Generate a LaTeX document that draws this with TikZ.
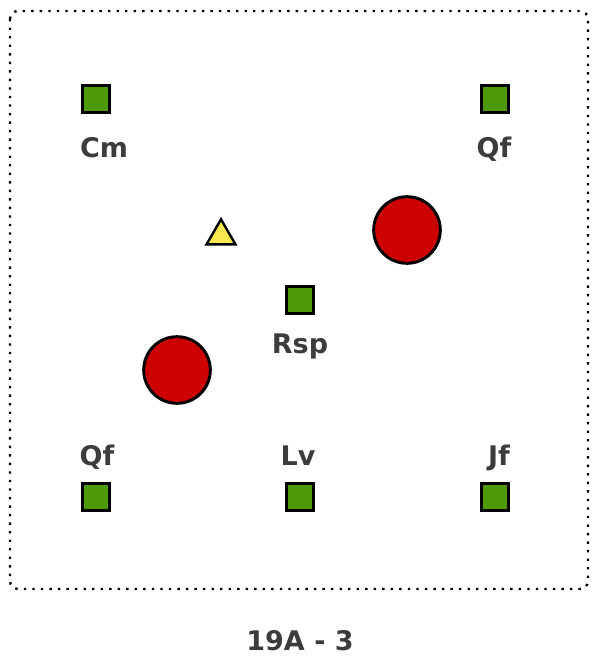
\documentclass[tikz,border=0pt]{standalone}
\usepackage{fontspec}
\setmainfont{DejaVu Sans}
\usepackage{xcolor}
\usepackage{tikz}
\usetikzlibrary{shapes.geometric}
\definecolor{plotgreen}{HTML}{4E9A06}
\definecolor{plotred}{HTML}{CC0000}
\definecolor{plotyellow}{HTML}{FCE94F}
\definecolor{labelgray}{HTML}{3C3C3C}
\tikzset{
    fieldplan/.style={x=0.75pt, y=-0.75pt, font=\fontsize{20.25}{24}\selectfont\bfseries},
    frame/.style={line width=1.8pt, dash pattern=on 1.8pt off 4.6pt, rounded corners=6pt},
    plant/.style={draw, fill=plotgreen, line width=1.9pt, minimum size=20pt, inner sep=0pt},
    tree/.style={draw, circle, fill=plotred, line width=2.2pt, minimum size=50pt, inner sep=0pt},
    marker/.style={draw, regular polygon, regular polygon sides=3, fill=plotyellow, line width=1.8pt, minimum size=25pt, inner sep=0pt},
    tag/.style={anchor=base, text=labelgray, inner sep=0pt},
}
\begin{document}
\begin{tikzpicture}[fieldplan]
    \useasboundingbox (0,0) rectangle (600,660);
    \draw[frame] (10,11) rectangle (588,589);

    % plants
    \node[plant] (cm)  at (96,99)   {};
    \node[plant] (qf1) at (495,99)  {};
    \node[plant] (rsp) at (300,300) {};
    \node[plant] (qf2) at (96,497)  {};
    \node[plant] (lv)  at (300,497) {};
    \node[plant] (jf)  at (495,497) {};

    % trees and marker
    \node[tree]   (treeA) at (407,230) {};
    \node[tree]   (treeB) at (177,370) {};
    \node[marker] (post)  at (221,236) {};

    % labels
    \node[tag] (cmlabel)  at (104,157) {Cm};
    \node[tag] (qf1label) at (494,157) {Qf};
    \node[tag] (rsplabel) at (300,353) {Rsp};
    \node[tag] (qf2label) at (97,465)  {Qf};
    \node[tag] (lvlabel)  at (298,465) {Lv};
    \node[tag] (jflabel)  at (499,465) {Jf};

    \node[tag] (title) at (300,650) {19A - 3};
\end{tikzpicture}
\end{document}
